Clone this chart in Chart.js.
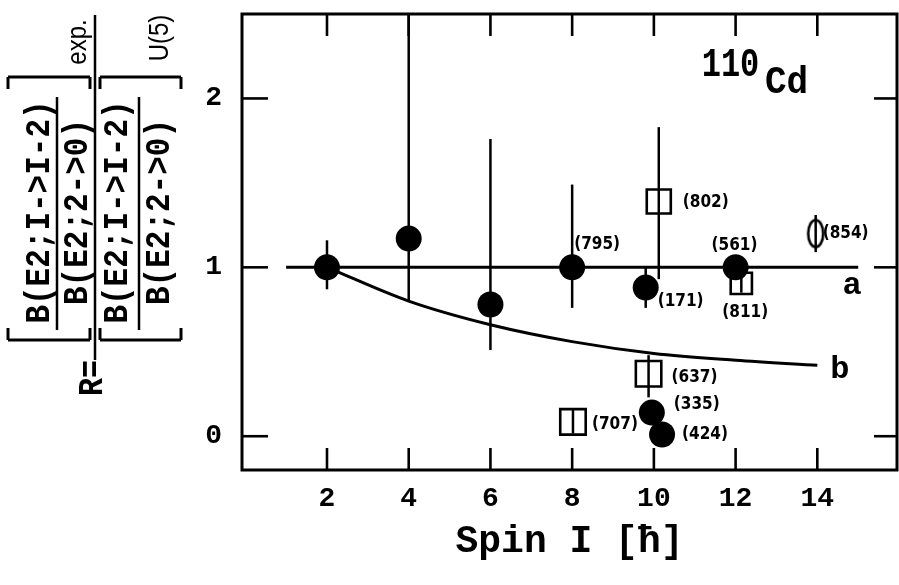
<!DOCTYPE html>
<html>
<head>
<meta charset="utf-8">
<script src="https://cdn.jsdelivr.net/npm/chart.js@4.4.1/dist/chart.umd.min.js"></script>
<style>
  html, body { margin: 0; padding: 0; background: #fff; }
  #wrap { width: 899px; height: 585px; }
</style>
</head>
<body>
<div id="wrap"><canvas id="chart"></canvas></div>
<script>
// filled circles
const fullSpin = [2, 4, 6, 8, 9.8, 12, 9.95, 10.2];
const fullR    = [1.0, 1.17, 0.78, 1.0, 0.88, 1.0, 0.14, 0.01];
const fullLow  = [0.87, 0.80, 0.51, 0.76, 0.76, null, null, null];
const fullHigh = [1.16, 2.5, 1.76, 1.49, 1.0, null, null, null];
const fullTags = ['', '', '', '(795)', '(171)', '(561)', '(335)', '(424)'];

// open squares
const boxSpin = [10.12, 12.14, 9.87, 8.02];
const boxR    = [1.39, 0.905, 0.37, 0.085];
const boxLow  = [0.93, 0.85, 0.23, 0.015];
const boxHigh = [1.83, 0.96, 0.48, 0.155];
const boxTags = ['(802)', '(811)', '(637)', '(707)'];

// open oval
const ovalSpin = [13.96];
const ovalR    = [1.2];
const ovalLow  = [1.09];
const ovalHigh = [1.31];
const ovalTags = ['(854)'];

// curves a and b
const aSpin = [1, 15];
const aR    = [1, 1];
const bSpin = [2, 4, 6, 8, 10, 12, 14];
const bR    = [1.0, 0.80, 0.66, 0.56, 0.49, 0.45, 0.42];

const xTicks = [2, 4, 6, 8, 10, 12, 14];
const yTicks = [0, 1, 2];

// label offsets in px from the point (left edge, middle)
const fullShift = [null, null, null, [2, -23], [12, 14], [-24, -22], [22, -8], [20, 0]];
const boxShift  = [[24, 1], [-19, 29], [23, 4], [19, 3]];
const ovalShift = [[7, 0]];

const pts = (xs, ys) => xs.map((x, i) => ({x: x, y: ys[i]}));

const mono = '"Liberation Mono", "DejaVu Sans Mono", monospace';
const tagFont = 'bold 17px "DejaVu Sans Condensed", "Liberation Sans Narrow", sans-serif';

const oval = document.createElement('canvas');
oval.width = 20; oval.height = 32;
(function () {
  const c = oval.getContext('2d');
  c.lineWidth = 2.6;
  c.beginPath();
  c.ellipse(10, 16, 7.5, 13.5, 0, 0, 2 * Math.PI);
  c.fillStyle = '#fff';
  c.fill();
  c.strokeStyle = '#000';
  c.stroke();
})();

function vtext(ctx, str, cx, cy, font, stretch) {
  ctx.save();
  ctx.translate(cx, cy);
  ctx.rotate(-Math.PI / 2);
  ctx.scale(1, stretch);
  ctx.font = font;
  ctx.textAlign = 'center';
  ctx.textBaseline = 'middle';
  ctx.fillText(str, 0, 0);
  ctx.restore();
}

function seg(ctx, x1, y1, x2, y2) {
  ctx.beginPath();
  ctx.moveTo(x1, y1);
  ctx.lineTo(x2, y2);
  ctx.stroke();
}

const errorBars = {
  id: 'errorBars',
  afterDatasetsDraw(chart) {
    const ctx = chart.ctx, a = chart.chartArea, ys = chart.scales.y;
    ctx.save();
    ctx.beginPath();
    ctx.rect(a.left, a.top, a.right - a.left, a.bottom - a.top);
    ctx.clip();
    ctx.strokeStyle = '#000';
    ctx.lineWidth = 2.5;
    chart.data.datasets.forEach((ds, di) => {
      if (!ds.errLow) return;
      const meta = chart.getDatasetMeta(di);
      meta.data.forEach((p, i) => {
        if (ds.errLow[i] == null) return;
        seg(ctx, p.x, ys.getPixelForValue(ds.errLow[i]), p.x, ys.getPixelForValue(ds.errHigh[i]));
      });
    });
    ctx.restore();
  }
};

const decor = {
  id: 'decor',
  afterDraw(chart) {
    const ctx = chart.ctx, a = chart.chartArea;
    const xs = chart.scales.x, ys = chart.scales.y;
    ctx.save();
    ctx.strokeStyle = '#000';
    ctx.fillStyle = '#000';

    // frame
    ctx.lineWidth = 3;
    ctx.strokeRect(a.left, a.top, a.right - a.left, a.bottom - a.top);

    // inward ticks
    ctx.lineWidth = 2.6;
    xTicks.forEach(v => {
      const px = xs.getPixelForValue(v);
      seg(ctx, px, a.bottom, px, a.bottom - 22);
      seg(ctx, px, a.top, px, a.top + 22);
    });
    ys.ticks.forEach(t => {
      if (t.value <= ys.min + 1e-6 || t.value >= ys.max - 1e-6) return;
      const py = ys.getPixelForValue(t.value);
      const major = Math.abs(t.value - Math.round(t.value)) < 1e-6;
      seg(ctx, a.left, py, a.left + (major ? 26 : 13), py);
      seg(ctx, a.right, py, a.right - (major ? 23 : 11), py);
    });

    // point tags
    ctx.font = tagFont;
    ctx.textAlign = 'left';
    ctx.textBaseline = 'middle';
    const tagSets = [[0, fullTags, fullShift], [1, boxTags, boxShift], [2, ovalTags, ovalShift]];
    tagSets.forEach(([di, tags, shift]) => {
      const meta = chart.getDatasetMeta(di);
      meta.data.forEach((p, i) => {
        if (!tags[i]) return;
        ctx.fillText(tags[i], p.x + shift[i][0], p.y + shift[i][1]);
      });
    });

    // curve names
    ctx.font = 'bold 32px ' + mono;
    ctx.textAlign = 'center';
    ctx.fillText('a', xs.getPixelForValue(14.85), ys.getPixelForValue(0.89));
    ctx.fillText('b', xs.getPixelForValue(14.55), ys.getPixelForValue(0.39));

    // nucleus label
    ctx.textAlign = 'left';
    ctx.save();
    ctx.translate(xs.getPixelForValue(11.17), ys.getPixelForValue(2.19));
    ctx.scale(1, 1.25);
    ctx.font = 'bold 32px ' + mono;
    ctx.fillText('110', 0, 0);
    ctx.restore();
    ctx.save();
    ctx.translate(xs.getPixelForValue(12.72), ys.getPixelForValue(2.09));
    ctx.scale(1, 1.1);
    ctx.font = 'bold 36px ' + mono;
    ctx.fillText('Cd', 0, 0);
    ctx.restore();

    // y axis title: R = [B(E2;I->I-2)/B(E2;2->0)]exp / [B(E2;I->I-2)/B(E2;2->0)]U(5)
    const big = 'bold 31px ' + mono;
    const sans = '24px "Liberation Sans", Arial, sans-serif';
    vtext(ctx, 'R=', 93, 378, 'bold 30px ' + mono, 1.15);
    ctx.lineWidth = 2.5;
    seg(ctx, 95, 15, 95, 360);
    ctx.lineWidth = 3;
    [[8, 90], [100, 181]].forEach(([x1, x2]) => {
      seg(ctx, x1, 340, x2, 340);
      seg(ctx, x1, 340, x1, 328);
      seg(ctx, x2, 340, x2, 328);
      seg(ctx, x1, 77, x2, 77);
      seg(ctx, x1, 77, x1, 89);
      seg(ctx, x2, 77, x2, 89);
    });
    ctx.lineWidth = 2.5;
    seg(ctx, 57, 97, 57, 330);
    seg(ctx, 139, 97, 139, 330);
    vtext(ctx, 'B(E2;I->I-2)', 40, 212, big, 1.15);
    vtext(ctx, 'B(E2;2->0)', 78, 212, big, 1.15);
    vtext(ctx, 'B(E2;I->I-2)', 118, 212, big, 1.15);
    vtext(ctx, 'B(E2;2->0)', 160, 212, big, 1.15);
    vtext(ctx, 'exp.', 78, 42, sans, 1.15);
    vtext(ctx, 'U(5)', 160, 38, sans, 1.15);

    ctx.restore();
  }
};

Chart.defaults.color = '#000';

new Chart(document.getElementById('chart'), {
  type: 'scatter',
  data: {
    datasets: [
      {
        data: pts(fullSpin, fullR),
        errLow: fullLow, errHigh: fullHigh,
        pointStyle: 'circle',
        pointRadius: 13,
        backgroundColor: '#000',
        borderColor: '#000',
        borderWidth: 0,
        order: 1
      },
      {
        data: pts(boxSpin, boxR),
        errLow: boxLow, errHigh: boxHigh,
        pointStyle: 'rect',
        pointRadius: [17, 15, 18, 18],
        backgroundColor: '#fff',
        borderColor: '#000',
        borderWidth: 2.6,
        order: 1
      },
      {
        data: pts(ovalSpin, ovalR),
        errLow: ovalLow, errHigh: ovalHigh,
        pointStyle: oval,
        pointRadius: 10,
        order: 1
      },
      {
        data: pts(aSpin, aR),
        showLine: true,
        pointRadius: 0,
        borderColor: '#000',
        borderWidth: 3,
        order: 5
      },
      {
        data: pts(bSpin, bR),
        showLine: true,
        cubicInterpolationMode: 'monotone',
        pointRadius: 0,
        borderColor: '#000',
        borderWidth: 3,
        order: 5
      }
    ]
  },
  options: {
    responsive: true,
    maintainAspectRatio: false,
    animation: false,
    events: [],
    layout: { autoPadding: false, padding: { top: 14, right: 2, left: 0, bottom: 0 } },
    plugins: {
      legend: { display: false },
      tooltip: { enabled: false }
    },
    scales: {
      x: {
        type: 'linear',
        min: -0.08,
        max: 15.95,
        grid: { display: false, drawTicks: false },
        border: { display: false },
        ticks: {
          stepSize: 2,
          includeBounds: false,
          autoSkip: false,
          maxRotation: 0,
          padding: 12,
          font: { family: mono, size: 28, weight: 'bold' },
          callback: v => xTicks.includes(v) ? String(v) : null
        },
        title: {
          display: true,
          text: 'Spin I [ħ]',
          font: { family: mono, size: 38, weight: 'bold' },
          padding: { top: 0, bottom: 20 }
        },
        afterFit: s => { s.height = 115; s.paddingLeft = 0; s.paddingRight = 0; }
      },
      y: {
        type: 'linear',
        min: -0.2,
        max: 2.5,
        grid: { display: false, drawTicks: false },
        border: { display: false },
        ticks: {
          stepSize: 0.2,
          autoSkip: false,
          padding: 20,
          font: { family: mono, size: 28, weight: 'bold' },
          callback: v => {
            const t = yTicks.find(k => Math.abs(k - v) < 1e-6);
            return t === undefined ? null : String(t);
          }
        },
        afterFit: s => { s.width = 242; s.paddingTop = 0; s.paddingBottom = 0; }
      }
    }
  },
  plugins: [errorBars, decor]
});
</script>
</body>
</html>
